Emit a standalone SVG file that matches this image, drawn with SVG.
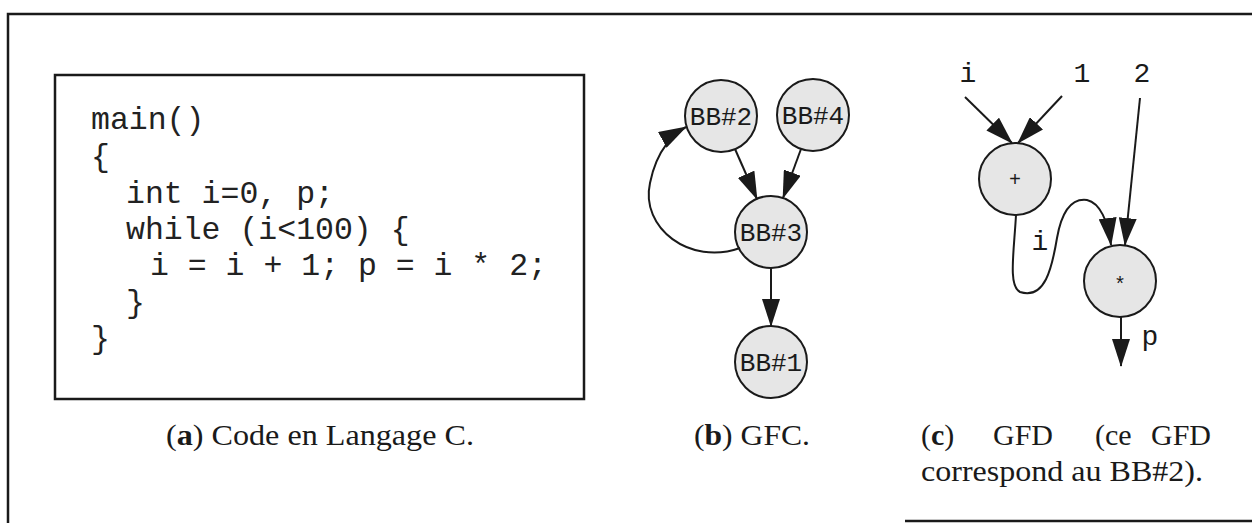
<svg xmlns="http://www.w3.org/2000/svg" width="1252" height="523" viewBox="0 0 1252 523">
  <style>
    .frame { fill: none; stroke: #1a1a1a; stroke-width: 2.5; }
    .code { font-family: "Liberation Mono", "Courier New", monospace; font-size: 31.5px; fill: #222222; }
    .node circle { fill: #e6e6e6; stroke: #1a1a1a; stroke-width: 2; }
    .lbl { font-family: "Liberation Mono", "Courier New", monospace; fill: #1a1a1a; text-anchor: middle; }
    .edge { fill: none; stroke: #1a1a1a; stroke-width: 2; marker-end: url(#ah); }
    .cap { font-family: "Liberation Serif", "Times New Roman", serif; font-size: 30px; fill: #1a1a1a; }
    .b { font-weight: bold; }
  </style>
  <defs>
    <marker id="ah" markerWidth="28" markerHeight="18" refX="27" refY="9" orient="auto" markerUnits="userSpaceOnUse">
      <path d="M0,0 L28,9 L0,18 z" fill="#1a1a1a"/>
    </marker>
  </defs>
  <rect width="1252" height="523" fill="#ffffff"/>

  <!-- outer frame -->
  <g id="frame">
    <path class="frame" d="M8,523 V14 H1252"/>
    <path class="frame" d="M905,521 H1252"/>
  </g>

  <!-- (a) source code -->
  <g id="code-box">
    <rect class="frame" x="55" y="75" width="529" height="324"/>
    <text class="code" x="91" y="129">main()</text>
    <text class="code" x="91" y="166">{</text>
    <text class="code" x="126" y="203">int i=0, p;</text>
    <text class="code" x="126" y="239">while (i&lt;100) {</text>
    <text class="code" x="150" y="275">i = i + 1; p = i * 2;</text>
    <text class="code" x="126" y="312">}</text>
    <text class="code" x="91" y="348">}</text>
  </g>

  <!-- (b) control-flow graph -->
  <g id="bb2" class="node">
    <circle cx="721" cy="116" r="36"/>
    <text class="lbl" x="721" y="125" font-size="26">BB#2</text>
  </g>
  <g id="bb4" class="node">
    <circle cx="813" cy="115" r="36"/>
    <text class="lbl" x="813" y="124" font-size="26">BB#4</text>
  </g>
  <g id="bb3" class="node">
    <circle cx="771" cy="232" r="36"/>
    <text class="lbl" x="771" y="241" font-size="26">BB#3</text>
  </g>
  <g id="bb1" class="node">
    <circle cx="771" cy="362" r="36"/>
    <text class="lbl" x="771" y="371" font-size="26">BB#1</text>
  </g>

  <!-- (c) data-flow graph -->
  <g id="add" class="node">
    <circle cx="1015" cy="179" r="36"/>
    <text class="lbl" x="1015" y="186" font-size="20">+</text>
  </g>
  <g id="mul" class="node">
    <circle cx="1120" cy="281" r="36"/>
    <text class="lbl" x="1120" y="291" font-size="20">*</text>
  </g>
  <g id="inputs">
    <text class="lbl" x="968" y="82" font-size="28">i</text>
    <text class="lbl" x="1082" y="82" font-size="28">1</text>
    <text class="lbl" x="1142" y="82" font-size="28">2</text>
  </g>

  <g id="connectors">
    <line class="edge" x1="735" y1="149" x2="757" y2="199"/>
    <line class="edge" x1="801" y1="149" x2="783" y2="198"/>
    <line class="edge" x1="771" y1="268" x2="771" y2="326"/>
    <path class="edge" d="M740,248 C690,266 640,228 650,183 C657,148 675,133 686,127"/>

    <line class="edge" x1="965" y1="97" x2="1012" y2="143"/>
    <line class="edge" x1="1062" y1="96" x2="1018" y2="143"/>
    <line class="edge" x1="1140" y1="98" x2="1125" y2="245"/>
    <path class="edge" d="M1016,215 C1014,252 1008,286 1020,292 C1045,300 1052,268 1057,238 C1062,210 1072,198 1087,200 C1100,203 1108,221 1111,245"/>
    <line class="edge" x1="1121" y1="317" x2="1121" y2="366"/>
    <text class="lbl" x="1040" y="250" font-size="28">i</text>
    <text class="lbl" x="1150" y="345" font-size="28">p</text>
  </g>

  <!-- captions -->
  <g id="captions">
    <text class="cap" x="166" y="445" textLength="308" lengthAdjust="spacingAndGlyphs">(<tspan class="b">a</tspan>) Code en Langage C.</text>
    <text class="cap" x="694" y="445" textLength="116" lengthAdjust="spacingAndGlyphs">(<tspan class="b">b</tspan>) GFC.</text>
    <text class="cap" x="921" y="445">(<tspan class="b">c</tspan>)</text>
    <text class="cap" x="993" y="445">GFD</text>
    <text class="cap" x="1095" y="445">(ce</text>
    <text class="cap" x="1211" y="445" text-anchor="end">GFD</text>
    <text class="cap" x="921" y="481" textLength="282" lengthAdjust="spacingAndGlyphs">correspond au BB#2).</text>
  </g>
</svg>
